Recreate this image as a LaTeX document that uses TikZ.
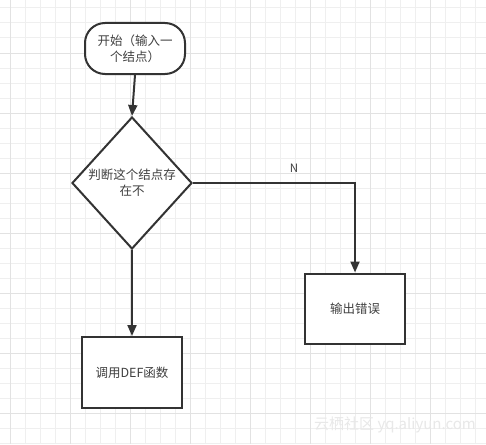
\documentclass[tikz,border=0pt]{standalone}
\usepackage{fontspec}
\setmainfont{Noto Sans CJK SC}
\usetikzlibrary{arrows.meta,shapes.geometric}
\definecolor{ink}{HTML}{333333}
\definecolor{txt}{HTML}{404040}
\definecolor{gridminor}{HTML}{EFEFEF}
\definecolor{gridmajor}{HTML}{E2E2E2}
\begin{document}
\begin{tikzpicture}[x=1pt,y=-1pt,
  every node/.style={font=\fontsize{12.5}{16}\selectfont, text=txt},
  startbox/.style={draw=ink, line width=2pt, rounded corners=20pt, minimum width=100pt, minimum height=51pt, align=center, inner sep=0pt, fill=white},
  decbox/.style={draw=ink, line width=2pt, diamond, minimum width=120pt, minimum height=132pt, align=center, inner sep=0pt, fill=white},
  procbox/.style={draw=ink, line width=2pt, rectangle, minimum width=100pt, minimum height=70pt, align=center, inner sep=0pt, fill=white},
  conn/.style={draw=ink, line width=2pt, -{Triangle[length=11pt,width=9pt]}},
  lbl/.style={font=\fontsize{11.5}{13}\selectfont, text=txt}]
\useasboundingbox (0,0) rectangle (486,444);
\fill[white] (0,0) rectangle (486,444);
% grid
\foreach \x in {10,25,...,485} \draw[gridminor, line width=1pt] (\x,0) -- (\x,444);
\foreach \y in {8,23,...,443} \draw[gridminor, line width=1pt] (0,\y) -- (486,\y);
\foreach \x in {10,70,...,485} \draw[gridmajor, line width=1pt] (\x,0) -- (\x,444);
\foreach \y in {53,113,...,443} \draw[gridmajor, line width=1pt] (0,\y) -- (486,\y);
% nodes
\node[startbox] (start) at (135,48.5) {开始（输入一\\个结点）};
\node[decbox] (dec) at (132,183) {判断这个结点存\\在不};
\node[procbox] (err) at (355,308.5) {输出错误};
\node[procbox, minimum height=71pt] (call) at (132,372.5) {调用DEF函数};
% connectors
\draw[conn] (dec.east) -| (err.north);
\node[lbl] (nlabel) at (294,168) {N};
\draw[conn] (start.south) -- (dec.north);
\draw[conn] (dec.south) -- (call.north);
% watermark
\node[font=\fontsize{15}{17}\selectfont, text=black!9] (wm) at (395,425) {云栖社区 yq.aliyun.com};
\end{tikzpicture}
\end{document}
